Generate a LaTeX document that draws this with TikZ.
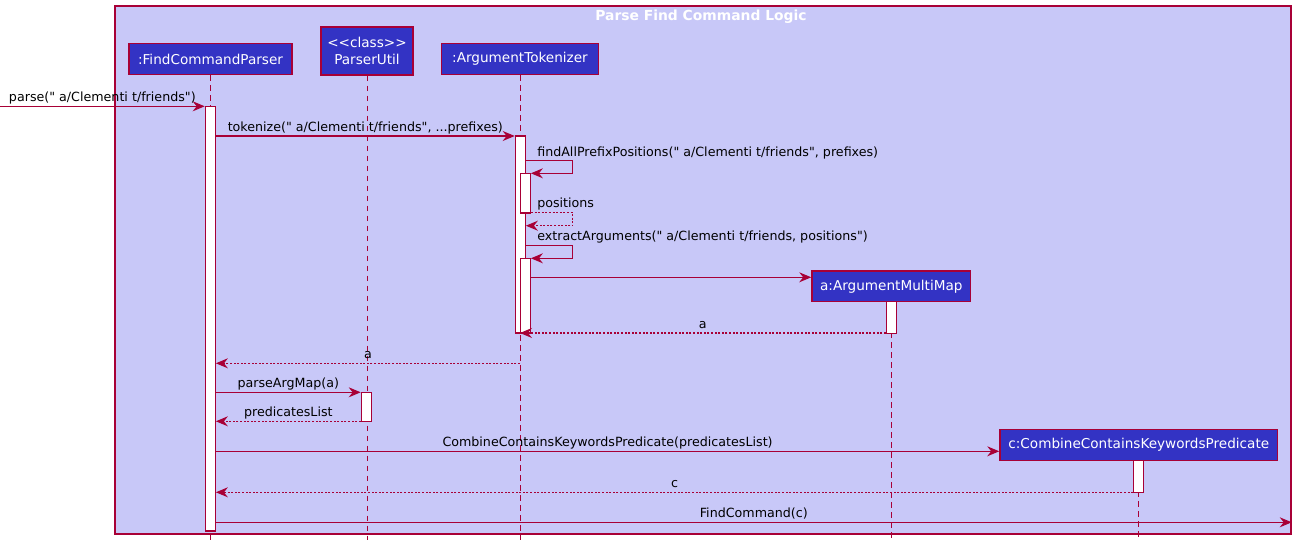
\documentclass[tikz,border=0pt]{standalone}
\usepackage{fontspec}
\setmainfont{DejaVu Sans}[Ligatures=TeXOff]
\usetikzlibrary{arrows.meta,fit}
\definecolor{crim}{HTML}{A80036}
\definecolor{bg}{HTML}{C8C8F8}
\definecolor{pbox}{HTML}{3333C4}
\def\px{0.75pt}
\tikzset{
  part/.style={draw=crim, fill=pbox, text=white, line width=1.1pt, inner sep=0pt,
    font=\fontsize{10.2}{12.5}\selectfont},
  act/.style={draw=crim, fill=white, line width=0.9pt, inner sep=0pt},
  life/.style={draw=crim, line width=0.75pt, dash pattern=on 4pt off 3.5pt},
  msg/.style={draw=crim, line width=0.8pt, -{Stealth[length=9pt,width=7.5pt,inset=3pt]}},
  ret/.style={msg, dash pattern=on 1.5pt off 1.2pt},
  lbl/.style={font=\fontsize{9.5}{11}\selectfont, text=black, inner sep=0pt, anchor=base},
  frm/.style={draw=crim, fill=bg, line width=1.1pt, inner sep=0pt},
}
\begin{document}
\begin{tikzpicture}[x=0.75pt,y=-0.75pt]
\useasboundingbox (0,0) rectangle (1296,546);
% frame
\node[frm, fit={(115,6) (1291,534)}] (frame) {};
\node[font=\bfseries\fontsize{10.4}{12}\selectfont, text=white, anchor=base] (title) at (701,20.5) {Parse Find Command Logic};
% participants
\node[part, minimum width=163*\px, minimum height=31*\px] (fcp) at (210.5,59.2) {:FindCommandParser};
\node[part, minimum width=92*\px, minimum height=48*\px, align=center] (pu) at (367,50.8) {<<class>>\\ParserUtil};
\node[part, minimum width=157*\px, minimum height=31*\px] (tok) at (520,59.2) {:ArgumentTokenizer};
\coordinate (bot) at (0,540);
% lifelines
\draw[life] (fcp.south) -- (fcp.south |- bot);
\draw[life] (pu.south) -- (pu.south |- bot);
\draw[life] (tok.south) -- (tok.south |- bot);
% created participants
\node[part, minimum width=158.7*\px, minimum height=30.7*\px] (am) at (891.3,286.3) {a:ArgumentMultiMap};
\node[part, minimum width=277.7*\px, minimum height=31.4*\px] (cc) at (1138.8,445) {c:CombineContainsKeywordsPredicate};
\draw[life] (am.south) -- (am.south |- bot);
\draw[life] (cc.south) -- (cc.south |- bot);
% activations
\node[act, fit={(205.3,106.3) (215.3,531)}] (aF) {};
\node[act, fit={(515.3,136) (525.3,333)}] (aT) {};
\node[act, fit={(520.3,173.3) (530.3,213)}] (aT1) {};
\node[act, fit={(520.3,258.3) (530.3,333)}] (aT2) {};
\node[act, fit={(886.3,301.7) (896.3,333.3)}] (aM) {};
\node[act, fit={(361.3,392.3) (371.3,421.3)}] (aP) {};
\node[act, fit={(1133.7,460.7) (1143.3,492.3)}] (aC) {};
% messages
\coordinate (src) at (0,106.3);
\draw[msg] (src) -- (aF.west |- src) node[lbl, midway, yshift=3.6pt] {parse(" a/Clementi t/friends")};
\draw[msg] (aF.east |- 0,136) -- (aT.west |- 0,136) node[lbl, midway, yshift=3.4pt] {tokenize(" a/Clementi t/friends", ...prefixes)};
\draw[msg] (aT.east |- 0,160.3) -- ++(47,0) |- (aT1.east |- 0,173.3);
\node[lbl, anchor=base west] (l3) at (537,156) {findAllPrefixPositions(" a/Clementi t/friends", prefixes)};
\draw[ret] (aT1.east |- 0,212.7) -- ++(42,0) |- (aT.east |- 0,225.7);
\node[lbl, anchor=base west] (l4) at (537,207.5) {positions};
\draw[msg] (aT.east |- 0,245.7) -- ++(47,0) |- (aT2.east |- 0,258.3);
\node[lbl, anchor=base west] (l5) at (537,240.5) {extractArguments(" a/Clementi t/friends, positions")};
\draw[msg] (aT2.east |- 0,277.3) -- (am.west |- 0,277.3);
\draw[ret] (aM.west |- 0,333) -- (tok.south |- 0,333) node[lbl, midway, yshift=3.6pt] {a};
\draw[ret] (tok.south |- 0,363.3) -- (aF.east |- 0,363.3) node[lbl, midway, yshift=3.6pt] {a};
\draw[msg] (aF.east |- 0,392.3) -- (aP.west |- 0,392.3) node[lbl, midway, yshift=3.6pt] {parseArgMap(a)};
\draw[ret] (aP.west |- 0,421.3) -- (aF.east |- 0,421.3) node[lbl, midway, yshift=3.6pt] {predicatesList};
\draw[msg] (aF.east |- 0,451.3) -- (cc.west |- 0,451.3) node[lbl, midway, yshift=3.6pt] {CombineContainsKeywordsPredicate(predicatesList)};
\draw[ret] (aC.west |- 0,492.3) -- (aF.east |- 0,492.3) node[lbl, midway, yshift=3.6pt] {c};
\draw[msg] (aF.east |- 0,522.3) -- (frame.east |- 0,522.3) node[lbl, midway, yshift=3.6pt] {FindCommand(c)};
\end{tikzpicture}
\end{document}
